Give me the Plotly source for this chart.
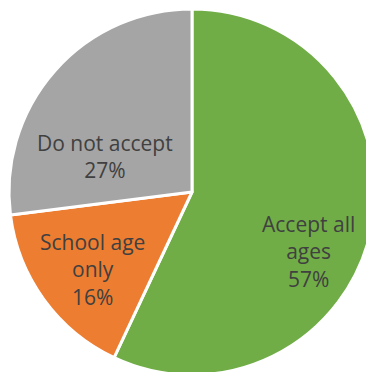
import plotly.graph_objects as go

# Survey response shares
categories = ["Accept all<br>ages", "School age<br>only", "Do not accept"]
shares = [57, 16, 27]
colors = ["#70AD47", "#ED7D31", "#A5A5A5"]

# label anchor points (paper fractions) for each slice's caption
label_x = [0.817, 0.227, 0.262]
label_y = [0.337, 0.287, 0.596]

fig = go.Figure(
    go.Pie(
        labels=categories,
        values=shares,
        sort=False,
        direction="clockwise",
        rotation=0,
        marker=dict(colors=colors, line=dict(color="white", width=3)),
        textinfo="none",
        hoverinfo="label+value",
        showlegend=False,
    )
)

for name, val, x, y in zip(categories, shares, label_x, label_y):
    fig.add_annotation(
        x=x,
        y=y,
        xref="paper",
        yref="paper",
        xanchor="center",
        yanchor="middle",
        text=f"{name}<br>{val}%",
        showarrow=False,
        align="center",
        font=dict(family="Open Sans", size=21, color="#404040"),
    )

fig.update_layout(
    width=384,
    height=384,
    margin=dict(l=9, r=9, t=9, b=9),
    paper_bgcolor="white",
    plot_bgcolor="white",
)

# keep the page itself from scrolling when the figure is a little larger
fig.write_html(
    "out.html",
    post_script="document.documentElement.style.overflow='hidden';"
    "document.body.style.overflow='hidden';document.body.style.margin='0';",
)
